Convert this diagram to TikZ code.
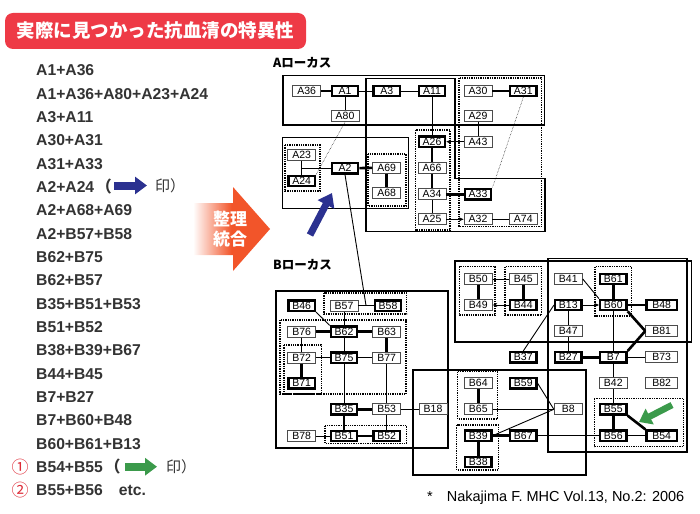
\documentclass[tikz,border=0pt]{standalone}
\usepackage{fontspec}
\setmainfont{Liberation Sans}
\newfontfamily\jpfont{Noto Sans CJK JP}
\usepackage{tikz}
\usetikzlibrary{arrows.meta,calc}
\definecolor{TitleRed}{HTML}{EE3A46}
\definecolor{ListGray}{HTML}{333333}
\definecolor{MarkRed}{HTML}{DD2A36}
\definecolor{PointerBlue}{HTML}{2B3190}
\definecolor{PointerGreen}{HTML}{3B9A4B}
\definecolor{MergeOrange}{HTML}{F2552A}
\tikzset{
 mhc antigen/.style={draw=black!70,line width=.9pt,fill=white,minimum width=28pt,
                     minimum height=11pt,inner sep=0pt,font=\fontsize{10.5}{10.5}\selectfont},
 mhc major/.style={mhc antigen,draw=black,line width=2.2pt,minimum width=26.5pt,
                   minimum height=10.5pt},
 mhc link/.style={line width=.9pt},
 mhc strong/.style={line width=2.6pt},
 mhc faint/.style={line width=.5pt,densely dotted},
 mhc tip/.style={line width=.9pt,-{Stealth[length=4.5pt,width=4pt]}},
 mhc region/.style={line width=1.3pt},
 mhc group/.style={line width=1.3pt,densely dotted},
 list item/.style={anchor=base west,inner sep=0pt,text=ListGray,
                   font=\bfseries\fontsize{15.7}{15.7}\selectfont},
 locus label/.style={anchor=west,inner sep=0pt,
                     font=\jpfont\bfseries\fontsize{12.5}{12.5}\selectfont}
}

\begin{document}
\begin{tikzpicture}[x=1pt,y=-1pt]
 \useasboundingbox (0,0) rectangle (700,513);

 % heading
 \node[fill=TitleRed,rounded corners=8pt,minimum width=301pt,minimum height=36pt,
       text=white,font=\jpfont\bfseries\fontsize{18.5}{18.5}\selectfont] (title)
   at (155.5,31) {実際に見つかった抗血清の特異性};

 % antisera found
 \foreach \txt [count=\i] in {A1+A36,A1+A36+A80+A23+A24,A3+A11,A30+A31,A31+A33,
   {A2+A24\hspace{2pt}{\jpfont （}},A2+A68+A69,A2+B57+B58,B62+B75,B62+B57,
   B35+B51+B53,B51+B52,B38+B39+B67,B44+B45,B7+B27,B7+B60+B48,B60+B61+B13,
   {B54+B55\hspace{2pt}{\jpfont （}},{B55+B56\hspace{16pt}etc.}}
   \node[list item] (item\i) at (36,{75.8+(\i-1)*23.33}) {\txt};
 \node[text=MarkRed,font=\jpfont\fontsize{17}{17}\selectfont,inner sep=0pt] (mark1)
   at (20,466.7) {①};
 \node[text=MarkRed,font=\jpfont\fontsize{17}{17}\selectfont,inner sep=0pt] (mark2)
   at (20,490) {②};

 \coordinate (blue tail) at (114,185.5);
 \coordinate (blue head) at (147,185.5);
 \draw[PointerBlue,line width=8pt,-{Triangle[length=12pt,width=17pt]}] (blue tail) -- (blue head);
 \node[list item,font=\jpfont\fontsize{15}{15}\selectfont] (seal1) at (155,191.5) {印）};
 \coordinate (green tail) at (125,466.7);
 \coordinate (green head) at (157,466.7);
 \draw[PointerGreen,line width=8pt,-{Triangle[length=12pt,width=17pt]}] (green tail) -- (green head);
 \node[list item,font=\jpfont\fontsize{15}{15}\selectfont] (seal2) at (166,472.5) {印）};

 % merge arrow
 \shade[left color=white,right color=MergeOrange,middle color=MergeOrange]
   (193,203) -- (233,203) -- (233,187) -- (270,229) -- (233,271) -- (233,255)
   -- (193,255) -- cycle;
 \node[text=white,align=center,font=\jpfont\bfseries\fontsize{17}{20}\selectfont] (merge)
   at (230,229) {整理\\統合};

 \node[locus label] (locus A) at (273,63) {Aローカス};
 \node[locus label] (locus B) at (273,265) {Bローカス};

 % A locus
 \draw[mhc region] (283,75.5) rectangle (544.5,125);
 \draw[mhc region] (366,78.3) -- (455,78.3) -- (455,178.3) -- (545,178.3)
   -- (545,231.7) -- (366,231.7) -- cycle;
 \draw[mhc region] (282.7,137.7) rectangle (408.3,208.3);
 \draw[mhc group] (285,145) rectangle (320,191);
 \draw[mhc group] (368,154) rectangle (406,206);
 \draw[mhc group] (415.5,130) rectangle (450,230);
 \draw[mhc group] (459,78) rectangle (541.5,226.5);

 \foreach \n/\x/\y in {A36/306.7/91,A80/345/116,A30/478/91,A29/478/116,A43/478/141.7,
   A23/301.7/155,A69/386.7/167.7,A68/386.7/193.3,A66/432/168.3,A34/432/194.3,
   A25/432/219.3,A32/478/219.3,A74/523.3/219.3}
   \node[mhc antigen] (\n) at (\x,\y) {\n};
 \foreach \n/\x/\y in {A1/345/91,A3/386.7/91,A11/432/91,A31/523.3/91,A26/432/141.7,
   A24/301.7/181,A2/345/168.3,A33/478/194.3}
   \node[mhc major] (\n) at (\x,\y) {\n};

 \coordinate (A pair) at (301.7,168.3);
 \foreach \a/\b in {A1/A3,A3/A11,A1/A80,A29/A43,A11/A26,A34/A25,A32/A74,A23/A24,A pair/A2}
   \draw[mhc link] (\a) -- (\b);
 \foreach \a/\b in {A36/A1,A30/A31,A26/A66,A66/A34,A34/A33,A2/A69,A69/A68}
   \draw[mhc strong] (\a) -- (\b);
 \draw[mhc tip] (A43) -- (A26);
 \draw[mhc tip] (A25) -- (A32);
 \draw[mhc faint] (A80.south) -- (A24.north east);
 \draw[mhc faint] (A31.south) -- (A33.north east);

 % B locus
 \draw[mhc region] (276,291) rectangle (448,448);
 \draw[mhc region] (455,261) rectangle (691.5,342);
 \draw[mhc region] (548,258.5) rectangle (687,452);
 \draw[mhc region] (413,370) rectangle (586,475);
 \draw[mhc group] (324,293) rectangle (406.7,314);
 \draw[mhc group] (280,320) rectangle (406,394);
 \draw[mhc group] (284,345) rectangle (321.7,394);
 \draw[mhc group] (325,425.7) rectangle (406.7,443.3);
 \draw[mhc group] (459.3,266.7) rectangle (495,315);
 \draw[mhc group] (505,266.7) rectangle (541.7,315);
 \draw[mhc group] (595,266.7) rectangle (631.7,316);
 \draw[mhc group] (457.7,371.7) rectangle (497.3,419);
 \draw[mhc group] (456.7,425) rectangle (498.3,470);
 \draw[mhc group] (594.3,398.3) rectangle (683.3,446.7);

 \foreach \n/\x/\y in {B57/344/305.7,B76/301.7/331.7,B63/386.7/331.7,B72/301.7/357.7,
   B77/386.7/357.7,B53/386.7/409.3,B78/301.7/436,B18/433/409.3,B50/478.3/279,
   B45/523.3/279,B49/478.3/305,B41/568.3/279,B47/568.3/331,B64/478.3/383.3,
   B65/478.3/409.3,B42/613.3/383.3,B8/568.3/409.3}
   \node[mhc antigen] (\n) at (\x,\y) {\n};
 \foreach \n/\y in {B81/331,B73/357.3,B82/383.3}
   \node[mhc antigen,minimum width=32pt] (\n) at (661.7,\y) {\n};
 \foreach \n/\x/\y in {B46/301.7/305.7,B58/388/305.7,B62/344/331.7,B75/344/357.7,
   B71/301.7/383.3,B35/344/409.3,B51/344/436,B52/386.7/436,B44/523.3/305,
   B61/613.3/279,B13/568.3/305,B60/613.3/305,B37/523.3/357.3,B27/568.3/357.3,
   B7/613.3/357.3,B59/523.3/383.3,B55/613.3/409.3,B39/478.3/435.7,B67/523.3/435.7,
   B56/613.3/435.7,B38/478.3/462}
   \node[mhc major] (\n) at (\x,\y) {\n};
 \foreach \n/\y in {B48/305,B54/435.7}
   \node[mhc major,minimum width=30.5pt] (\n) at (661.7,\y) {\n};

 \coordinate (B pair) at ($(B57.east)!.5!(B58.west)$);
 \foreach \a/\b in {B57/B58,B57/B62,B62/B75,B76/B72,B72/B75,B75/B77,B75/B35,B77/B53,
   B53/B18,B53/B52,B78/B51,B50/B45,B13/B47,B47/B27,B60/B7,B7/B73,B7/B42,B42/B55,
   B56/B54,B67/B56,B65/B8,B59.east/B8.west,B39.east/B8.west,
   B46.south east/B62.north west,B41.east/B60.north west,B13.west/B37.north}
   \draw[mhc link] (\a) -- (\b);
 \foreach \a/\b in {B76/B62,B62/B63,B63/B77,B72/B71,B35/B53,B35/B51,B51/B52,B50/B49,
   B45/B44,B61/B60,B60/B48,B27/B7,B55/B56,B64/B65,B39/B67,B39/B38,
   B60.south east/B81.west,B81.west/B7.north east,B55.south east/B54.north west}
   \draw[mhc strong] (\a) -- (\b);
 \draw[mhc tip] (B44) -- (B49);
 \draw[mhc tip] (B13) -- (B60);
 \draw[mhc link] (A2.south) -- (B pair);

 % pointers
 \coordinate (A pointer tail) at (310,235);
 \coordinate (A pointer head) at (332,193);
 \draw[PointerBlue,line width=7pt,-{Triangle[length=13pt,width=18pt]}]
   (A pointer tail) -- (A pointer head);
 \coordinate (B pointer tail) at (672,405);
 \coordinate (B pointer head) at (639,422);
 \draw[PointerGreen,line width=6.5pt,-{Triangle[length=12pt,width=17pt]}]
   (B pointer tail) -- (B pointer head);

 \node[anchor=base west,inner sep=0pt,font=\fontsize{14.5}{14.5}\selectfont] (source)
   at (427,501) {*\hspace{14pt}Nakajima F. MHC Vol.13, No.2: 2006};
\end{tikzpicture}
\end{document}
